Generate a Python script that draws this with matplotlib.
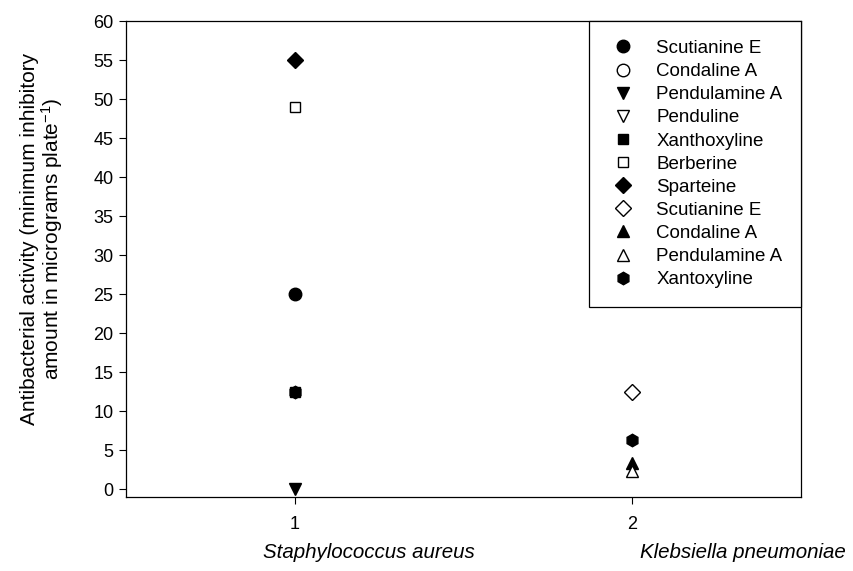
import numpy as np
import matplotlib
matplotlib.use("Agg")
import matplotlib.pyplot as plt

plt.rcParams["font.family"] = ["Liberation Sans", "DejaVu Sans"]
plt.rcParams["mathtext.fontset"] = "custom"
plt.rcParams["mathtext.rm"] = "Liberation Sans"
plt.rcParams["mathtext.it"] = "Liberation Sans:italic"

x_pos = [1, 2]
bacteria = ["Staphylococcus aureus", "Klebsiella pneumoniae"]

nan = np.nan
names = ["Scutianine E", "Condaline A", "Pendulamine A", "Penduline",
         "Xanthoxyline", "Berberine", "Sparteine", "Scutianine E",
         "Condaline A", "Pendulamine A", "Xantoxyline"]
values = [
    [25, nan],
    [nan, nan],
    [0, nan],
    [nan, nan],
    [12.5, nan],
    [49, nan],
    [55, nan],
    [nan, 12.5],
    [nan, 3.3],
    [nan, 2.3],
    [12.5, 6.25],
]
markers = ["o", "o", "v", "v", "s", "s", "D", "D", "^", "^", "h"]
filled = [True, False, True, False, True, False, True, False, True, False, True]
sizes = [9, 9, 9, 9, 7.5, 7.5, 8, 8, 8.5, 8.5, 9]

fig = plt.figure(figsize=(8.54, 5.71), dpi=100)
ax = fig.add_axes([0.1475, 0.1296, 0.7905, 0.8334])

for name, vals, m, f, s in zip(names, values, markers, filled, sizes):
    ax.plot(x_pos, vals, linestyle="none", marker=m, markersize=s,
            markerfacecolor="black" if f else "white",
            markeredgecolor="black", markeredgewidth=1.0, label=name)

ax.set_xlim(0.5, 2.5)
ax.set_ylim(-1, 60)
ax.set_xticks(x_pos)
ax.set_yticks(range(0, 61, 5))
ax.tick_params(direction="out", length=5, width=0.8, labelsize=13, pad=4)
ax.tick_params(axis="x", pad=9)
for sp in ax.spines.values():
    sp.set_linewidth(0.9)

ax.set_ylabel("Antibacterial activity (minimum inhibitory\n"
              "amount in micrograms plate$^{-1}$)", fontsize=15,
              linespacing=1.0)
ax.yaxis.set_label_coords(-0.09, 0.542)

leg = ax.legend(loc="upper right", borderaxespad=0, fancybox=False,
                edgecolor="black", framealpha=1, fontsize=13.5,
                labelspacing=0.32, handletextpad=0.95, borderpad=1.0,
                handlelength=1.63)
leg.get_frame().set_linewidth(0.9)

fig.text(263 / 854, 1 - 553 / 571, bacteria[0], style="italic",
         fontsize=14.8, ha="left", va="center")
fig.text(640 / 854, 1 - 553 / 571, bacteria[1], style="italic",
         fontsize=14.8, ha="left", va="center")

fig.savefig("out.png", dpi=100)
